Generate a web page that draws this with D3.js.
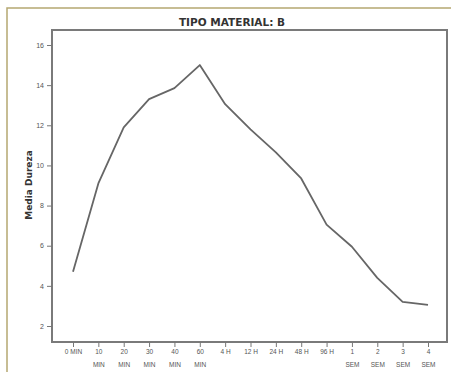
<!DOCTYPE html>
<html>
<head>
<meta charset="utf-8">
<script src="https://cdn.jsdelivr.net/npm/d3@7"></script>
<style>
  html, body { margin: 0; padding: 0; background: #fff; }
  svg { display: block; font-family: "Liberation Sans", Arial, sans-serif; }
</style>
</head>
<body>
<div id="chart"></div>
<script>
'use strict';

// ─── Data ───────────────────────────────────────────────────────────────────
const categories = ['0 MIN', '10 MIN', '20 MIN', '30 MIN', '40 MIN', '60 MIN',
    '4 H', '12 H', '24 H', '48 H', '96 H', '1 SEM', '2 SEM', '3 SEM', '4 SEM'];
const tickLines = [['0 MIN'], ['10', 'MIN'], ['20', 'MIN'], ['30', 'MIN'], ['40', 'MIN'], ['60', 'MIN'],
    ['4 H'], ['12 H'], ['24 H'], ['48 H'], ['96 H'], ['1', 'SEM'], ['2', 'SEM'], ['3', 'SEM'], ['4', 'SEM']];
const dureza = [4.7, 9.1, 11.9, 13.3, 13.85, 15.0, 13.05, 11.8, 10.65, 9.35, 7.05, 5.95, 4.4, 3.2, 3.05];
const yTicks = [2, 4, 6, 8, 10, 12, 14, 16];

const W = 451, H = 372;
const box = { left: 52, right: 447, top: 30, bottom: 342 };

const svg = d3.select('#chart').append('svg')
    .attr('width', W).attr('height', H);

// outer frame (top + left edges of the cropped figure)
svg.append('path')
    .attr('d', 'M7,' + H + 'V8H' + W)
    .attr('fill', 'none')
    .attr('stroke', '#b5a872')
    .attr('stroke-width', 1.5);

// ─── Scales ─────────────────────────────────────────────────────────────────
const x = d3.scalePoint().domain(categories).range([73, 428]);
const y = d3.scaleLinear().domain([2, 16]).range([326, 45]);

// plot frame
svg.append('rect')
    .attr('x', box.left).attr('y', box.top)
    .attr('width', box.right - box.left).attr('height', box.bottom - box.top)
    .attr('fill', 'none').attr('stroke', '#7a7a7a').attr('stroke-width', 2);

// y axis
const yAxis = svg.append('g')
    .attr('transform', 'translate(' + box.left + ',0)')
    .call(d3.axisLeft(y).tickValues(yTicks).tickSize(5).tickPadding(3));
yAxis.select('.domain').remove();
yAxis.selectAll('line').attr('stroke', '#777').attr('stroke-width', 1);
yAxis.selectAll('text').attr('fill', '#555').attr('font-size', 7);

// x axis
const xAxis = svg.append('g')
    .attr('transform', 'translate(0,' + box.bottom + ')')
    .call(d3.axisBottom(x).tickSize(5).tickFormat(''));
xAxis.select('.domain').remove();
xAxis.selectAll('line').attr('stroke', '#777').attr('stroke-width', 1);
xAxis.selectAll('.tick').each(function (d, i) {
    const t = d3.select(this).append('text')
        .attr('fill', '#555').attr('font-size', 6.5)
        .attr('text-anchor', 'middle');
    tickLines[i].forEach(function (s, k) {
        t.append('tspan').attr('x', 0).attr('y', 12 + k * 13)
            .attr('fill', '#555').text(s);
    });
});

// line
svg.append('path')
    .datum(dureza)
    .attr('fill', 'none')
    .attr('stroke', '#666')
    .attr('stroke-width', 1.8)
    .attr('stroke-linejoin', 'round')
    .attr('d', d3.line()
        .x(function (d, i) { return x(categories[i]); })
        .y(function (d) { return y(d); }));

// title + axis label
svg.append('text')
    .attr('x', 232).attr('y', 26)
    .attr('text-anchor', 'middle')
    .style('font-family', '"DejaVu Sans", sans-serif')
    .attr('font-size', 10.5).attr('font-weight', 'bold').attr('fill', '#333')
    .text('TIPO MATERIAL: B');

svg.append('text')
    .attr('transform', 'translate(32,185) rotate(-90)')
    .attr('text-anchor', 'middle')
    .style('font-family', '"DejaVu Sans", sans-serif')
    .attr('font-size', 9).attr('font-weight', 'bold').attr('fill', '#333')
    .text('Media Dureza');
</script>
</body>
</html>
